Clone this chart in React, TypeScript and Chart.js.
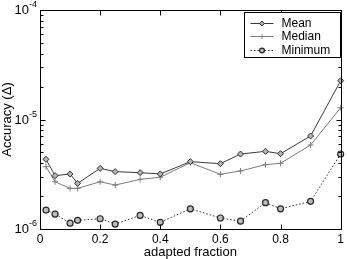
import { useEffect, useRef } from 'react';
import { Chart, registerables } from 'chart.js';
import { drawPoint } from 'chart.js/helpers';

Chart.register(...registerables);

// Adapted fraction of the training set and the resulting accuracy statistics
const fractions = [0.02, 0.05, 0.1, 0.125, 0.2, 0.25, 0.333, 0.4, 0.5, 0.6, 0.667, 0.75, 0.8, 0.9, 1.0];
const meanAcc = [4.33e-6, 3.07e-6, 3.18e-6, 2.61e-6, 3.58e-6, 3.34e-6, 3.27e-6, 3.18e-6, 4.12e-6, 3.95e-6, 4.84e-6, 5.12e-6, 4.87e-6, 7.07e-6, 2.26e-5];
const medianAcc = [3.71e-6, 2.7e-6, 2.35e-6, 2.35e-6, 2.7e-6, 2.52e-6, 2.84e-6, 2.97e-6, 4.03e-6, 3.16e-6, 3.39e-6, 3.87e-6, 3.98e-6, 5.85e-6, 1.28e-5];
const minAcc = [1.49e-6, 1.37e-6, 1.13e-6, 1.2e-6, 1.24e-6, 1.11e-6, 1.33e-6, 1.15e-6, 1.53e-6, 1.26e-6, 1.18e-6, 1.74e-6, 1.53e-6, 1.79e-6, 4.84e-6];

const xTicks = [0, 0.2, 0.4, 0.6, 0.8, 1];
const yDecades = [-6, -5, -4];

const FONT = '"Liberation Sans", Arial, Helvetica, sans-serif';

const toPoints = (ys: number[]) => fractions.map((x, i) => ({ x, y: ys[i] }));

// Boxed axes with inward ticks, superscripted decade labels and an inset legend
const framePlugin = {
  id: 'frame',
  afterDraw(chart: any) {
    const { ctx, chartArea: a, scales } = chart;
    const xs = scales.x;
    const ys = scales.y;
    ctx.save();
    ctx.strokeStyle = '#000';
    ctx.lineWidth = 1;
    const L = Math.round(a.left) + 0.5;
    const R = Math.round(a.right) + 0.5;
    const T = Math.round(a.top) + 0.5;
    const B = Math.round(a.bottom) + 0.5;
    ctx.strokeRect(L, T, R - L, B - T);

    ctx.beginPath();
    for (const v of xTicks) {
      const px = Math.round(xs.getPixelForValue(v)) + 0.5;
      ctx.moveTo(px, B);
      ctx.lineTo(px, B - 5);
      ctx.moveTo(px, T);
      ctx.lineTo(px, T + 5);
    }
    for (let d = yDecades[0]; d < yDecades[yDecades.length - 1]; d++) {
      for (let m = 1; m <= 9; m++) {
        const py = Math.round(ys.getPixelForValue(m * Math.pow(10, d))) + 0.5;
        const len = m === 1 ? 5 : 3;
        ctx.moveTo(L, py);
        ctx.lineTo(L + len, py);
        ctx.moveTo(R, py);
        ctx.lineTo(R - len, py);
      }
    }
    ctx.stroke();

    // decade labels: "10" with a raised exponent
    ctx.fillStyle = '#000';
    ctx.textBaseline = 'alphabetic';
    for (const d of yDecades) {
      const py = ys.getPixelForValue(Math.pow(10, d));
      const exp = '-' + String(-d);
      ctx.font = `9px ${FONT}`;
      const ew = ctx.measureText(exp).width;
      const right = a.left - 3;
      ctx.textAlign = 'left';
      ctx.fillText(exp, right - ew, py - 3);
      ctx.font = `13px ${FONT}`;
      ctx.textAlign = 'right';
      ctx.fillText('10', right - ew, py + 4);
    }

    // legend
    const bw = 96;
    const bh = 45;
    const bx = Math.round(a.right) - 1 - bw + 0.5;
    const by = Math.round(a.top) + 2 + 0.5;
    ctx.fillStyle = '#fff';
    ctx.fillRect(bx, by, bw, bh);
    ctx.strokeStyle = '#000';
    ctx.setLineDash([]);
    ctx.strokeRect(bx, by, bw, bh);
    chart.data.datasets.forEach((ds: any, i: number) => {
      const cy = Math.round(by + 10 + i * 13.5) + 0.5;
      ctx.save();
      ctx.strokeStyle = ds.borderColor;
      ctx.lineWidth = ds.borderWidth;
      ctx.setLineDash(ds.borderDash || []);
      ctx.beginPath();
      ctx.moveTo(bx + 6, cy);
      ctx.lineTo(bx + 29, cy);
      ctx.stroke();
      ctx.setLineDash([]);
      ctx.fillStyle = ds.pointBackgroundColor;
      ctx.strokeStyle = ds.pointBorderColor;
      ctx.lineWidth = ds.pointBorderWidth;
      drawPoint(ctx, { pointStyle: ds.pointStyle, radius: ds.pointRadius * 0.8, rotation: 0, borderWidth: ds.pointBorderWidth }, bx + 17.5, cy);
      ctx.restore();
      ctx.fillStyle = '#000';
      ctx.font = `12px ${FONT}`;
      ctx.textAlign = 'left';
      ctx.textBaseline = 'middle';
      ctx.fillText(ds.label, bx + 37, cy);
    });
    ctx.restore();
  },
};

export default function App() {
  const canvasRef = useRef<HTMLCanvasElement | null>(null);

  useEffect(() => {
    const canvas = canvasRef.current;
    if (!canvas) return;
    const chart = new Chart(canvas, {
      type: 'line',
      data: {
        datasets: [
          {
            label: 'Mean',
            data: toPoints(meanAcc),
            borderColor: '#3a3a3a',
            borderWidth: 1,
            pointStyle: 'rectRot',
            pointRadius: 3,
            pointBackgroundColor: '#b4b4b4',
            pointBorderColor: '#2e2e2e',
            pointBorderWidth: 1,
            tension: 0,
            clip: false,
          },
          {
            label: 'Median',
            data: toPoints(medianAcc),
            borderColor: '#7c7c7c',
            borderWidth: 1,
            pointStyle: 'cross',
            pointRadius: 3,
            pointBackgroundColor: '#7c7c7c',
            pointBorderColor: '#7c7c7c',
            pointBorderWidth: 1,
            tension: 0,
            clip: false,
          },
          {
            label: 'Minimum',
            data: toPoints(minAcc),
            borderColor: '#2e2e2e',
            borderWidth: 1,
            borderDash: [1.5, 2],
            pointStyle: 'circle',
            pointRadius: 3,
            pointBackgroundColor: '#bcbcbc',
            pointBorderColor: '#262626',
            pointBorderWidth: 1.2,
            tension: 0,
            clip: false,
          },
        ],
      } as any,
      options: {
        responsive: false,
        animation: false,
        devicePixelRatio: 1,
        layout: { padding: { top: 10, right: 6, left: 0, bottom: 0 } },
        plugins: { legend: { display: false }, tooltip: { enabled: false } },
        font: { family: FONT },
        scales: {
          x: {
            type: 'linear',
            min: 0,
            max: 1,
            afterBuildTicks: (scale: any) => {
              scale.ticks = xTicks.map((v) => ({ value: v }));
            },
            afterFit: (scale: any) => {
              scale.height = 30;
            },
            grid: { display: false, drawTicks: false },
            border: { display: false },
            ticks: {
              padding: 3,
              color: '#000',
              font: { family: FONT, size: 12 },
              maxRotation: 0,
              callback: (v: any) => String(Number(v)),
            },
            title: {
              display: true,
              text: 'adapted fraction',
              color: '#000',
              font: { family: FONT, size: 13 },
              padding: { top: 0, bottom: -1 },
            },
          },
          y: {
            type: 'logarithmic',
            min: 1e-6,
            max: 1e-4,
            afterFit: (scale: any) => {
              scale.width = 40;
            },
            grid: { display: false, drawTicks: false },
            border: { display: false },
            ticks: { display: false },
            title: {
              display: true,
              text: 'Accuracy (Δ)',
              color: '#000',
              font: { family: FONT, size: 13 },
              padding: 0,
            },
          },
        },
      } as any,
      plugins: [framePlugin],
    });
    return () => chart.destroy();
  }, []);

  return (
    <div style={{ position: 'absolute', left: 0, top: 0, width: 347, height: 259, background: '#fff' }}>
      <canvas ref={canvasRef} width={347} height={259} style={{ display: 'block' }} />
    </div>
  );
}
